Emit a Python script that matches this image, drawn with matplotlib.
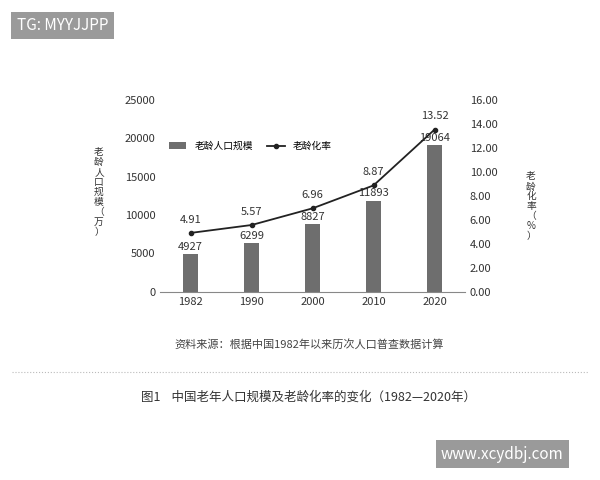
import matplotlib
matplotlib.use("Agg")
import matplotlib.pyplot as plt

plt.rcParams['font.family'] = ['Noto Sans CJK SC', 'DejaVu Sans']

years = ["1982", "1990", "2000", "2010", "2020"]
pop = [4927, 6299, 8827, 11893, 19064]
rate = [4.91, 5.57, 6.96, 8.87, 13.52]

fig = plt.figure(figsize=(6, 4.8), dpi=100)
ax = fig.add_axes([0.267, 0.392, 0.508, 0.400])
x = range(len(years))
ax.bar(x, pop, width=0.25, color='#6e6e6e', label='老龄人口规模')
ax.set_ylim(0, 25000)
ax.set_yticks(range(0, 25001, 5000))
ax.set_xticks(list(x))
ax.set_xticklabels(years)
ax.set_xlim(-0.5, 4.5)
for s in ['top', 'right', 'left']:
    ax.spines[s].set_visible(False)
ax.spines['bottom'].set_color('#888888')
ax.tick_params(length=0, labelsize=8, colors='#333333')
for i, v in enumerate(pop):
    ax.text(i, v + 300, str(v), ha='center', va='bottom', fontsize=8, color='#333333')

ax2 = ax.twinx()
ax2.plot(x, rate, color='#222222', marker='o', markersize=3, lw=1.3, label='老龄化率')
ax2.set_ylim(0, 16)
ax2.set_yticks([i * 2 for i in range(9)])
ax2.set_yticklabels([f"{i*2:.2f}" for i in range(9)])
for s in ['top', 'right', 'left', 'bottom']:
    ax2.spines[s].set_visible(False)
ax2.tick_params(length=0, labelsize=8, colors='#333333')
for i, v in enumerate(rate):
    ax2.text(i, v + 0.7, f"{v:.2f}", ha='center', va='bottom', fontsize=8, color='#333333')

h1, l1 = ax.get_legend_handles_labels()
h2, l2 = ax2.get_legend_handles_labels()
ax.legend(h1 + h2, l1 + l2, loc='upper left', bbox_to_anchor=(0.0, 0.83), ncol=2,
          frameon=False, fontsize=7, handlelength=1.8, columnspacing=1.5)

fig.text(0.165, 0.60, "\n".join("老龄人口规模") + "\n（\n万\n）", ha='center', va='center',
         fontsize=7, linespacing=1.0, color='#333333')
fig.text(0.885, 0.57, "\n".join("老龄化率") + "\n（\n%\n）", ha='center', va='center',
         fontsize=7, linespacing=1.0, color='#333333')

fig.text(0.515, 0.282, "资料来源：根据中国1982年以来历次人口普查数据计算", ha='center', va='center',
         fontsize=8, color='#444444')
fig.add_artist(plt.Line2D([0.02, 0.98], [0.225, 0.225], transform=fig.transFigure,
                          color='#bbbbbb', lw=0.8, ls=':'))
fig.text(0.235, 0.173, "图1    中国老年人口规模及老龄化率的变化（1982—2020年）", ha='left', va='center',
         fontsize=9, color='#333333')

fig.text(0.028, 0.947, "TG: MYYJJPP", ha='left', va='center', fontsize=11, color='white',
         bbox=dict(boxstyle='square,pad=0.35', fc='#9a9a9a', ec='none'))
fig.text(0.735, 0.054, "www.xcydbj.com", ha='left', va='center', fontsize=11, color='white',
         bbox=dict(boxstyle='square,pad=0.35', fc='#9a9a9a', ec='none'))

fig.savefig("out.png", dpi=100)
